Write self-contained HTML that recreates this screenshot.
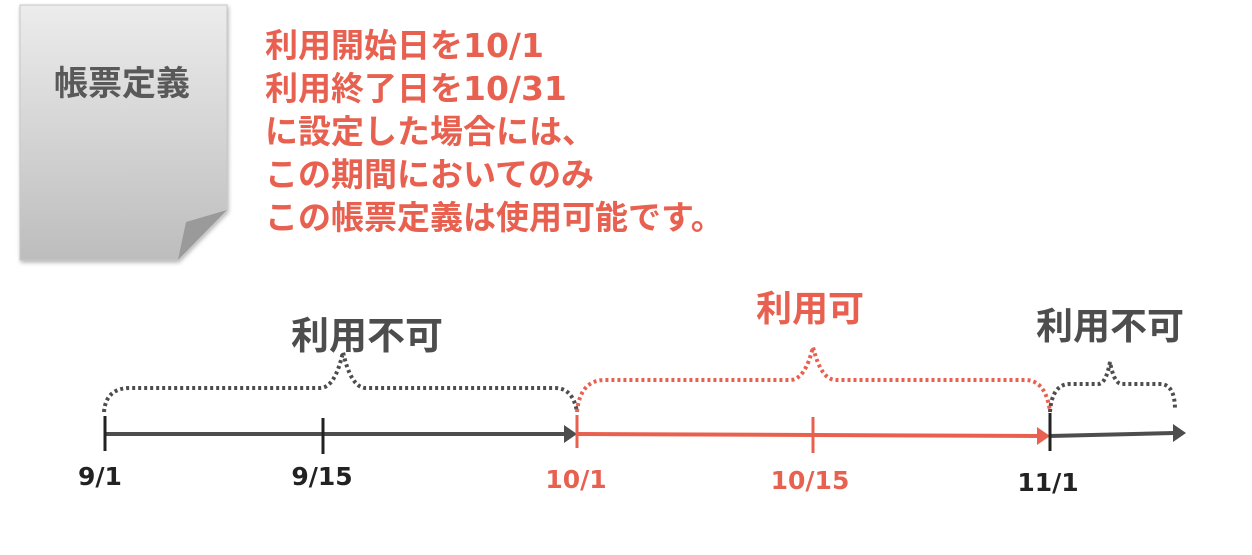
<!DOCTYPE html>
<html><head><meta charset="utf-8"><style>
body{margin:0;background:#fff;width:1252px;height:550px;overflow:hidden}
text{font-family:"DejaVu Sans","Noto Sans CJK JP",sans-serif;font-weight:bold}
</style></head><body>
<svg width="1252" height="550" viewBox="0 0 1252 550">
<defs>
<linearGradient id="g" x1="0" y1="0" x2="0" y2="1"><stop offset="0" stop-color="#ececec"/><stop offset="1" stop-color="#bdbdbd"/></linearGradient>
<filter id="s"><feDropShadow dx="1" dy="2" stdDeviation="2" flood-color="#000" flood-opacity="0.3"/></filter>
</defs>
<path d="M20 5 H227 V210 L178 260 H20 Z" fill="url(#g)" stroke="#c8c8c8" filter="url(#s)"/>
<path d="M227 210 L178 260 L186 222 Z" fill="#9a9a9a"/>
<text x="122" y="95" font-size="34" fill="#595959" text-anchor="middle">帳票定義</text>
<g font-size="33" fill="#e8604f">
<text x="265" y="57">利用開始日を10/1</text>
<text x="265" y="100">利用終了日を10/31</text>
<text x="265" y="143">に設定した場合には、</text>
<text x="265" y="186">この期間においてのみ</text>
<text x="265" y="229">この帳票定義は使用可能です。</text>
</g>
<g stroke-dasharray="3 3" stroke-width="4" fill="none">
<path d="M104 412 Q106 388 130 388 H320 Q335 388 343 352 Q351 388 366 388 H555 Q573 388 577 412" stroke="#4d4d4d"/>
<path d="M577 412 Q580 380 605 380 H790 Q805 380 813 347 Q821 380 836 380 H1025 Q1046 380 1050 412" stroke="#e8604f"/>
<path d="M1050 412 Q1052 384 1070 384 H1098 Q1106 384 1110 362 Q1114 384 1122 384 H1160 Q1175 384 1175 410" stroke="#4d4d4d"/>
</g>
<line x1="105" y1="434" x2="566" y2="434" stroke="#4d4d4d" stroke-width="4"/>
<path d="M577 434 L564 425 L564 443 Z" fill="#4d4d4d"/>
<line x1="577" y1="434" x2="1038" y2="436" stroke="#e8604f" stroke-width="4"/>
<path d="M1050 436 L1037 427 L1037 445 Z" fill="#e8604f"/>
<line x1="1050" y1="436" x2="1174" y2="433" stroke="#4d4d4d" stroke-width="4"/>
<path d="M1186 433 L1173 424 L1173 442 Z" fill="#4d4d4d"/>
<g stroke-width="3">
<line x1="105" y1="416" x2="105" y2="451" stroke="#222"/>
<line x1="323" y1="418" x2="323" y2="454" stroke="#222"/>
<line x1="577" y1="415" x2="577" y2="448" stroke="#e8604f"/>
<line x1="813" y1="417" x2="813" y2="453" stroke="#e8604f"/>
<line x1="1050" y1="413" x2="1050" y2="451" stroke="#222"/>
</g>
<g font-size="25" text-anchor="middle">
<text x="100" y="485" fill="#222">9/1</text>
<text x="322" y="485" fill="#222">9/15</text>
<text x="576" y="488" fill="#e8604f">10/1</text>
<text x="810" y="489" fill="#e8604f">10/15</text>
<text x="1048" y="491" fill="#222">11/1</text>
</g>
<g text-anchor="middle">
<text x="367" y="349" font-size="38" fill="#4d4d4d">利用不可</text>
<text x="810" y="321" font-size="36" fill="#e8604f">利用可</text>
<text x="1110" y="339" font-size="37" fill="#4d4d4d">利用不可</text>
</g>
</svg>
</body></html>
